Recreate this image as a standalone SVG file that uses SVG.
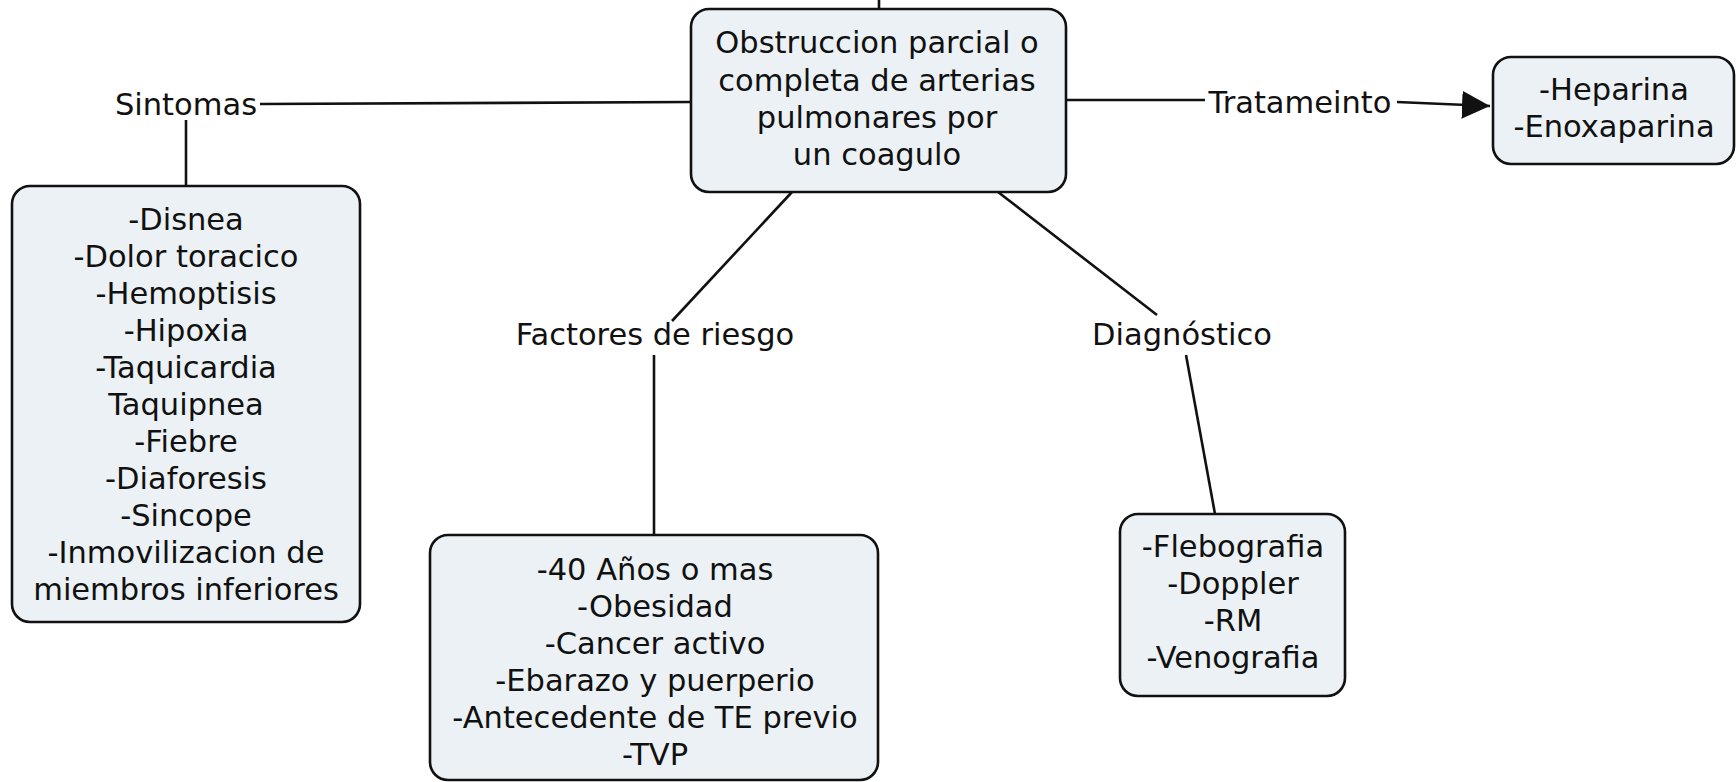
<svg xmlns="http://www.w3.org/2000/svg" width="1736" height="782" viewBox="0 0 1736 782">
<style>
.box{fill:#ebf1f4;stroke:#111;stroke-width:2.6}
.t{font-family:"DejaVu Sans","Verdana","Liberation Sans",sans-serif;font-size:30.5px;fill:#111;text-anchor:middle}
.c{stroke:#111;stroke-width:2.6;fill:none}
</style>
<defs>
<marker id="arr" markerUnits="userSpaceOnUse" markerWidth="28" markerHeight="28" viewBox="0 0 10 10" refX="10" refY="5" orient="auto">
<path d="M0,0 L10,5 L0,10 z" fill="#111"/>
</marker>
</defs>
<rect width="1736" height="782" fill="#fff"/>
<g id="connectors">
<line class="c" x1="879" y1="0" x2="879" y2="9"/>
<line class="c" x1="260" y1="104" x2="691" y2="102"/>
<line class="c" x1="186" y1="120" x2="186" y2="186"/>
<line class="c" x1="792" y1="192" x2="672" y2="321"/>
<line class="c" x1="654" y1="355" x2="654" y2="535"/>
<line class="c" x1="998" y1="192" x2="1157" y2="315"/>
<line class="c" x1="1186" y1="355" x2="1215" y2="514"/>
<line class="c" x1="1066" y1="100" x2="1205" y2="100"/>
<line class="c" x1="1397" y1="102" x2="1490" y2="106" marker-end="url(#arr)"/>
</g>
<g id="labels">
<text class="t" x="186" y="115">Sintomas</text>
<text class="t" x="655" y="345">Factores de riesgo</text>
<text class="t" x="1182" y="345">Diagnóstico</text>
<text class="t" x="1300" y="113">Tratameinto</text>
</g>
<g id="center">
<rect class="box" x="691" y="9" width="375" height="183" rx="18"/>
<text class="t" x="877" y="53">Obstruccion parcial o</text>
<text class="t" x="877" y="91">completa de arterias</text>
<text class="t" x="877" y="128">pulmonares por</text>
<text class="t" x="877" y="165">un coagulo</text>
</g>
<g id="sintomas">
<rect class="box" x="12" y="186" width="348" height="436" rx="18"/>
<text class="t" x="186" y="230">-Disnea</text>
<text class="t" x="186" y="267">-Dolor toracico</text>
<text class="t" x="186" y="304">-Hemoptisis</text>
<text class="t" x="186" y="341">-Hipoxia</text>
<text class="t" x="186" y="378">-Taquicardia</text>
<text class="t" x="186" y="415">Taquipnea</text>
<text class="t" x="186" y="452">-Fiebre</text>
<text class="t" x="186" y="489">-Diaforesis</text>
<text class="t" x="186" y="526">-Sincope</text>
<text class="t" x="186" y="563">-Inmovilizacion de</text>
<text class="t" x="186" y="600">miembros inferiores</text>
</g>
<g id="factores">
<rect class="box" x="430" y="535" width="448" height="245" rx="18"/>
<text class="t" x="655" y="580">-40 Años o mas</text>
<text class="t" x="655" y="617">-Obesidad</text>
<text class="t" x="655" y="654">-Cancer activo</text>
<text class="t" x="655" y="691">-Ebarazo y puerperio</text>
<text class="t" x="655" y="728">-Antecedente de TE previo</text>
<text class="t" x="655" y="765">-TVP</text>
</g>
<g id="diagnostico">
<rect class="box" x="1120" y="514" width="225" height="182" rx="18"/>
<text class="t" x="1233" y="557">-Flebografia</text>
<text class="t" x="1233" y="594">-Doppler</text>
<text class="t" x="1233" y="631">-RM</text>
<text class="t" x="1233" y="668">-Venografia</text>
</g>
<g id="tratamiento">
<rect class="box" x="1493" y="57" width="241" height="107" rx="18"/>
<text class="t" x="1614" y="100">-Heparina</text>
<text class="t" x="1614" y="137">-Enoxaparina</text>
</g>
</svg>
